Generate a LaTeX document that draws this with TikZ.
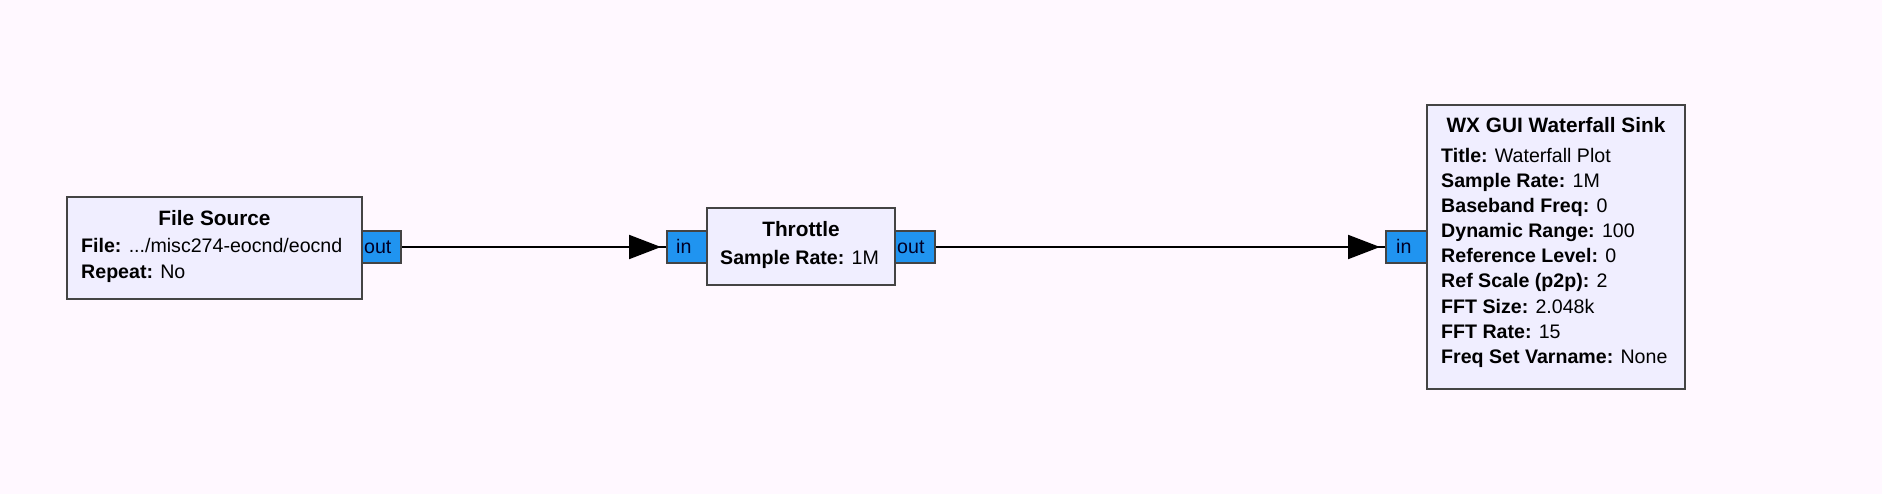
\documentclass[tikz,border=0pt]{standalone}
\usepackage{fontspec}
\setmainfont{Liberation Sans}
\usetikzlibrary{arrows.meta}
\definecolor{bgcol}{HTML}{FFF8FF}
\definecolor{blockfill}{HTML}{F0EEFF}
\definecolor{blockdraw}{HTML}{444444}
\definecolor{portfill}{HTML}{2094F0}
\tikzset{
  blockbox/.style={draw=blockdraw, fill=blockfill, line width=2pt, rectangle, inner sep=0pt},
  portbox/.style={draw=blockdraw, fill=portfill, line width=2pt, rectangle, inner sep=0pt},
  ttl/.style={inner sep=0pt, anchor=base, font=\fontsize{20.8}{25}\selectfont\bfseries},
  prm/.style={inner sep=0pt, anchor=base west, font=\fontsize{19.6}{25}\selectfont},
  plab/.style={inner sep=0pt, anchor=base west, font=\fontsize{19.6}{25}\selectfont, text=black!85!blue},
  wire/.style={draw=black, line width=2pt},
  wirehead/.style={draw=black, line width=2pt, -{Triangle[length=32pt,width=24pt]}, shorten >=5pt},
}
\begin{document}
\begin{tikzpicture}[x=1pt,y=-1pt]
\fill[bgcol] (0,0) rectangle (1882,494);
\useasboundingbox (0,0) rectangle (1882,494);
% ports (drawn first, block borders on top)
\node[portbox, minimum width=39pt, minimum height=32pt] (fsout) at (381.5,247) {};
\node[portbox, minimum width=40pt, minimum height=32pt] (thrin) at (687,247) {};
\node[portbox, minimum width=40pt, minimum height=32pt] (throut) at (915,247) {};
\node[portbox, minimum width=41pt, minimum height=32pt] (wfin) at (1406.5,247) {};
% blocks
\node[blockbox, minimum width=295pt, minimum height=102pt] (fs) at (214.5,248) {};
\node[blockbox, minimum width=188pt, minimum height=77pt] (thr) at (801,246.5) {};
\node[blockbox, minimum width=258pt, minimum height=284pt] (wf) at (1556,247) {};
% port labels
\node[plab] (fsoutl) at (364,254) {out};
\node[plab] (thrinl) at (676,254) {in};
\node[plab] (throutl) at (897,254) {out};
\node[plab] (wfinl) at (1396,254) {in};
% File Source text
\node[ttl] (fst) at (214.5,226) {File Source};
\node[prm] (fs1) at (81,253) {\textbf{File:} .../misc274-eocnd/eocnd};
\node[prm] (fs2) at (81,279) {\textbf{Repeat:} No};
% Throttle text
\node[ttl] (thrt) at (801,237) {Throttle};
\node[prm] (thr1) at (720,265) {\textbf{Sample Rate:} 1M};
% Waterfall text
\node[ttl] (wft) at (1556,133) {WX GUI Waterfall Sink};
\node[prm] (wf1) at (1441,163) {\textbf{Title:} Waterfall Plot};
\node[prm] (wf2) at (1441,188) {\textbf{Sample Rate:} 1M};
\node[prm] (wf3) at (1441,213) {\textbf{Baseband Freq:} 0};
\node[prm] (wf4) at (1441,238) {\textbf{Dynamic Range:} 100};
\node[prm] (wf5) at (1441,263) {\textbf{Reference Level:} 0};
\node[prm] (wf6) at (1441,288) {\textbf{Ref Scale (p2p):} 2};
\node[prm] (wf7) at (1441,313) {\textbf{FFT Size:} 2.048k};
\node[prm] (wf8) at (1441,338) {\textbf{FFT Rate:} 15};
\node[prm] (wf9) at (1441,363) {\textbf{Freq Set Varname:} None};
% connectors
\draw[wire] (fsout.east) -- (thrin.west);
\draw[wirehead] (fsout.east) -- (thrin.west);
\draw[wire] (throut.east) -- (wfin.west);
\draw[wirehead] (throut.east) -- (wfin.west);
\end{tikzpicture}
\end{document}
